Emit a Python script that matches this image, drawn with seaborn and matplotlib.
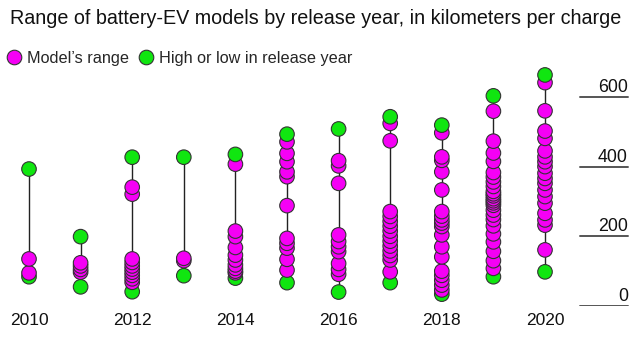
import matplotlib
matplotlib.use("Agg")
import matplotlib.pyplot as plt
import matplotlib.transforms as mtransforms
import numpy as np
import pandas as pd
import seaborn as sns

# Driving range (km per charge) of battery-EV models, grouped by release year
years = [2010, 2011, 2012, 2013, 2014, 2015, 2016, 2017, 2018, 2019, 2020]
range_2010 = [393, 135, 95, 84]
range_2011 = [199, 124, 115, 105, 97, 55]
range_2012 = [427, 341, 321, 135, 125, 115, 106, 97, 88, 78, 68, 41]
range_2013 = [427, 137, 130, 87]
range_2014 = [435, 407, 215, 199, 168, 146, 132, 118, 108, 100, 95, 80]
range_2015 = [493, 471, 438, 414, 385, 371, 288, 194, 180, 166, 134, 103, 67]
range_2016 = [508, 417, 402, 352, 204, 185, 170, 156, 122, 105, 91, 40]
range_2017 = [543, 524, 474, 271, 257, 243, 229, 215, 200, 186, 172, 158, 145, 132, 98, 67]
range_2018 = [519, 497, 428, 418, 385, 333, 271, 258, 247, 238, 228, 204, 170, 141,
              100, 88, 74, 60, 46, 34]
range_2019 = [603, 559, 473, 439, 415, 383, 370, 356, 343, 329, 322, 316, 308, 302, 296,
              289, 275, 261, 248, 230, 207, 184, 157, 130, 108, 84]
range_2020 = [663, 641, 560, 502, 481, 445, 428, 414, 400, 381, 366, 352, 333, 314, 295,
              266, 247, 232, 161, 98]
ranges_by_year = [range_2010, range_2011, range_2012, range_2013, range_2014, range_2015,
                  range_2016, range_2017, range_2018, range_2019, range_2020]

year_ticks = [2010, 2012, 2014, 2016, 2018, 2020]
y_ticks = [0, 200, 400, 600]

title = "Range of battery-EV models by release year, in kilometers per charge"
label_model = "Model\u2019s range"
label_extreme = "High or low in release year"

# Long-form table; each year's max and min are flagged as extremes
rows = []
for yr, vals in zip(years, ranges_by_year):
    hi, lo = max(vals), min(vals)
    for v in vals:
        kind = label_extreme if v in (hi, lo) else label_model
        rows.append({"year": yr, "km": v, "kind": kind})
df = pd.DataFrame(rows).sort_values("km", kind="stable").reset_index(drop=True)

sns.set_theme(style="white")
plt.rcParams["font.family"] = ["Liberation Sans", "DejaVu Sans"]

W, H = 644, 338
fig = plt.figure(figsize=(W / 100, H / 100), dpi=100)
fig.patch.set_facecolor("white")

# Axes spans the full width; baseline (0 km) sits at pixel row 306
px_per_year = 51.6
x0_px = 29
y0_px, ytop_px = 306, 60
px_per_km = 0.3485
ax = fig.add_axes([0, (H - y0_px) / H, 1, (y0_px - ytop_px) / H])
ax.set_xlim(2010 - x0_px / px_per_year, 2010 + (W - x0_px) / px_per_year)
ax.set_ylim(0, (y0_px - ytop_px) / px_per_km)

# Right-hand reference rules with their labels sitting on top
blend = mtransforms.blended_transform_factory(ax.transAxes, ax.transData)
for v in y_ticks:
    ax.axhline(v, xmin=580 / W, xmax=628 / W, color="#555555", lw=1.4, zorder=1)
    ax.annotate(str(v), xy=(628 / W, v), xycoords=blend, xytext=(0, 5),
                textcoords="offset pixels", ha="right", va="baseline",
                fontsize=12.8, color="#111111")

# Span of each year from lowest to highest range
lo = [min(v) for v in ranges_by_year]
hi = [max(v) for v in ranges_by_year]
ax.vlines(years, lo, hi, color="#222222", lw=1.0, zorder=1)

sns.scatterplot(data=df, x="year", y="km", hue="kind",
                hue_order=[label_model, label_extreme],
                palette={label_model: "#f500f5", label_extreme: "#10e610"},
                s=110, edgecolor="#333333", linewidth=0.8, ax=ax, zorder=3,
                clip_on=False)

ax.set_xticks(year_ticks)
ax.set_xticklabels([str(y) for y in year_ticks])
ax.tick_params(axis="x", length=0, pad=5, labelsize=12.5, labelcolor="#111111")
ax.set_yticks([])
ax.set_xlabel("")
ax.set_ylabel("")
for sp in ax.spines.values():
    sp.set_visible(False)
ax.set_facecolor("none")

sns.move_legend(ax, loc="center left", bbox_to_anchor=(0, 0.5),
                ncol=2, frameon=False, title=None, fontsize=11.7,
                handletextpad=0.0, columnspacing=0.25, markerscale=1.0,
                borderpad=0, borderaxespad=0, handlelength=1.6)
leg = ax.get_legend()
leg.set_bbox_to_anchor((1 / W, (H - 58) / H), transform=fig.transFigure)

fig.text(10 / W, 1 - 18 / H, title, ha="left", va="center", fontsize=14.2,
         color="#111111")

fig.savefig("out.png", dpi=100, facecolor="white")
